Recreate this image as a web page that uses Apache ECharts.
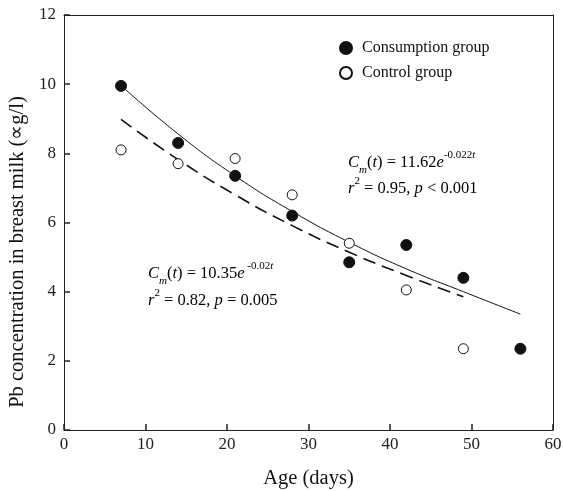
<!DOCTYPE html>
<html>
<head>
<meta charset="utf-8">
<script src="https://cdn.jsdelivr.net/npm/echarts@6/dist/echarts.min.js"></script>
<style>
  html, body { margin: 0; padding: 0; background: #fff; }
  #chart { width: 563px; height: 491px; }
</style>
</head>
<body>
<div id="chart"></div>
<script>
const days = [7, 14, 21, 28, 35, 42, 49, 56];
const consumption = [9.95, 8.3, 7.35, 6.2, 4.85, 5.35, 4.4, 2.35];
const control = [8.1, 7.7, 7.85, 6.8, 5.4, 4.05, 2.35];
// fitted curves
const fitDays = [7, 14, 21, 28, 35, 42, 49, 56];
const consumptionFit = [9.96, 8.56, 7.35, 6.32, 5.43, 4.66, 4.0, 3.35];
const controlFitDays = [7, 14, 21, 28, 35, 42, 49];
const controlFit = [8.98, 7.82, 6.8, 5.91, 5.14, 4.47, 3.85];

const serif = "Liberation Serif";
const pair = (xs, ys) => ys.map((v, i) => [xs[i], v]);

const chart = echarts.init(document.getElementById("chart"));

const eqRich = {
  i: { fontFamily: serif, fontSize: 16.5, fontStyle: "italic", lineHeight: 26, color: "#111" },
  n: { fontFamily: serif, fontSize: 16.5, lineHeight: 26, color: "#111" },
  sub: { fontFamily: serif, fontSize: 11, fontStyle: "italic", lineHeight: 13, verticalAlign: "bottom", color: "#111" },
  sup: { fontFamily: serif, fontSize: 11, lineHeight: 13, verticalAlign: "top", color: "#111" },
  supi: { fontFamily: serif, fontSize: 11, fontStyle: "italic", lineHeight: 13, verticalAlign: "top", color: "#111" }
};

function eqText(x, y, text) {
  return {
    type: "text",
    left: x,
    top: y,
    style: { text: text, rich: eqRich }
  };
}

// plain box line for the top / right edges
function boxAxis() {
  return {
    axisLine: { show: true, onZero: false, lineStyle: { color: "#222", width: 1 } },
    axisTick: { show: false },
    axisLabel: { show: false },
    splitLine: { show: false }
  };
}

function tickStyle() {
  return { show: true, inside: true, length: 6, lineStyle: { color: "#222", width: 1.5 } };
}

chart.setOption({
  backgroundColor: "#fff",
  animation: false,
  grid: {
    left: 64,
    right: 10,
    top: 15,
    bottom: 61,
    outerBoundsMode: "none"
  },
  legend: {
    data: ["Consumption group", "Control group"],
    orient: "vertical",
    left: 334,
    top: 35,
    itemWidth: 12,
    itemHeight: 12,
    itemGap: 9,
    textStyle: { fontFamily: serif, fontSize: 16, color: "#111", padding: [0, 0, 0, 5] }
  },
  xAxis: [
    {
      type: "value",
      position: "bottom",
      min: 0,
      max: 60,
      interval: 10,
      name: "Age (days)",
      nameLocation: "middle",
      nameGap: 38,
      nameTextStyle: { fontFamily: serif, fontSize: 20.5, color: "#111" },
      splitLine: { show: false },
      axisLine: { show: true, onZero: false, lineStyle: { color: "#222", width: 1 } },
      axisTick: tickStyle(),
      axisLabel: { fontFamily: serif, fontSize: 17, color: "#222", margin: 6 }
    },
    Object.assign({ type: "value", position: "top", min: 0, max: 60 }, boxAxis())
  ],
  yAxis: [
    {
      type: "value",
      position: "left",
      min: 0,
      max: 12,
      interval: 2,
      splitLine: { show: false },
      axisLine: { show: true, onZero: false, lineStyle: { color: "#222", width: 1 } },
      axisTick: tickStyle(),
      axisLabel: { fontFamily: serif, fontSize: 17, color: "#222", margin: 8 }
    },
    Object.assign({ type: "value", position: "right", min: 0, max: 12 }, boxAxis())
  ],
  series: [
    {
      name: "Consumption fit",
      type: "line",
      data: pair(fitDays, consumptionFit),
      smooth: true,
      showSymbol: false,
      lineStyle: { color: "#111", width: 1 },
      z: 1
    },
    {
      name: "Control fit",
      type: "line",
      data: pair(controlFitDays, controlFit),
      smooth: true,
      showSymbol: false,
      lineStyle: { color: "#111", width: 1.6, type: [13, 7] },
      z: 1
    },
    {
      name: "Consumption group",
      type: "scatter",
      data: pair(days, consumption),
      symbol: "circle",
      symbolSize: 11,
      itemStyle: { color: "#111", borderColor: "#111", borderWidth: 1, opacity: 1 },
      z: 3
    },
    {
      name: "Control group",
      type: "scatter",
      data: pair(days, control),
      symbol: "circle",
      symbolSize: 10,
      itemStyle: { color: "#fff", borderColor: "#111", borderWidth: 1, opacity: 1 },
      z: 3
    }
  ],
  graphic: [
    {
      type: "text",
      x: 18,
      y: 252,
      rotation: Math.PI / 2,
      style: {
        text: "Pb concentration in breast milk (∝g/l)",
        fontFamily: serif,
        fontSize: 20.5,
        fill: "#111",
        align: "center",
        verticalAlign: "middle"
      }
    },
    eqText(348, 150, "{i|C}{sub|m}{n|(}{i|t}{n|) = 11.62}{i|e}{sup|-0.022}{supi|t}"),
    eqText(348, 176, "{i|r}{sup|2}{n| = 0.95, }{i|p}{n| < 0.001}"),
    eqText(148, 261, "{i|C}{sub|m}{n|(}{i|t}{n|) = 10.35}{i|e}{sup| -0.02}{supi|t}"),
    eqText(148, 288, "{i|r}{sup|2}{n| = 0.82, }{i|p}{n| = 0.005}")
  ]
});
</script>
</body>
</html>
